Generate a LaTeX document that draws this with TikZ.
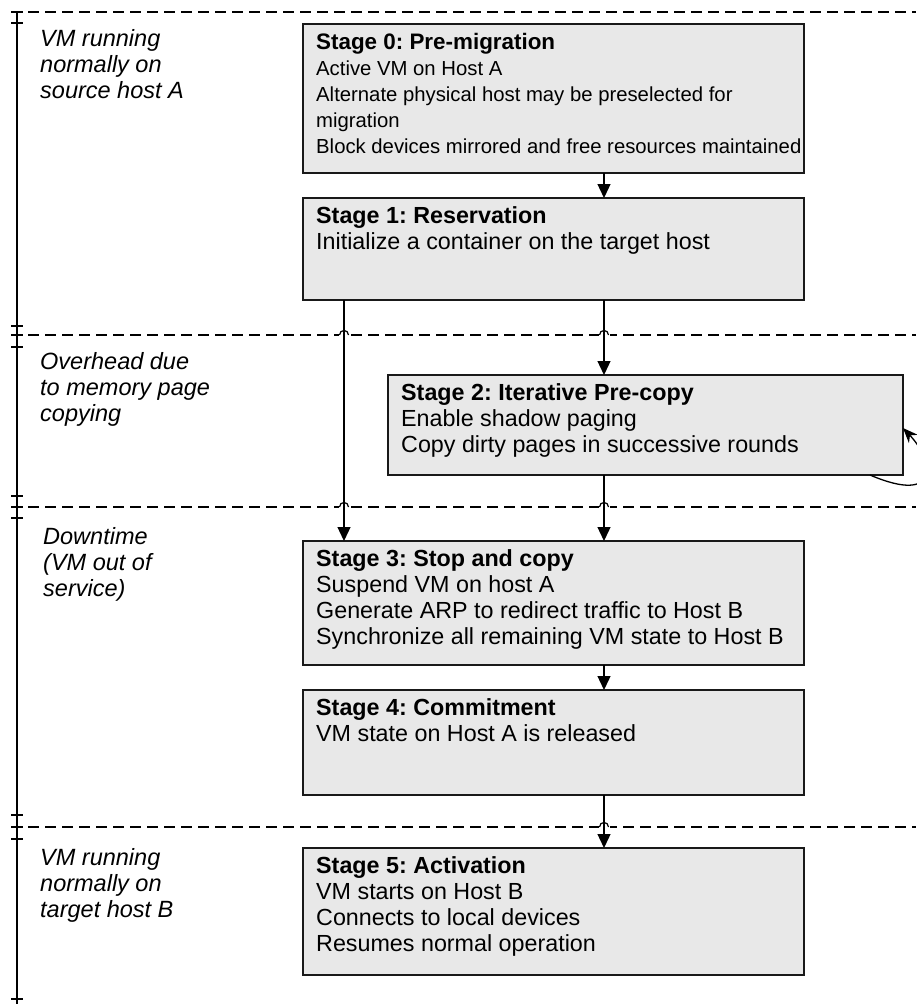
\documentclass[tikz,border=0pt]{standalone}
\usepackage{fontspec}
\setmainfont{Liberation Sans}
\usetikzlibrary{arrows.meta}
\definecolor{boxfill}{RGB}{232,232,232}
\definecolor{edge}{RGB}{25,25,25}
\frenchspacing
\begin{document}
\begin{tikzpicture}[x=1pt,y=-1pt,
  stagebox/.style={draw=edge, line width=1.4pt, fill=boxfill, rectangle,
                   inner sep=0pt, outer sep=0pt, anchor=north west},
  stagetxt/.style={anchor=north west, inner sep=0pt, align=left,
                   font=\fontsize{23.3}{26}\selectfont},
  densetxt/.style={stagetxt, font=\fontsize{20.3}{26}\selectfont},
  sidetxt/.style={stagetxt, font=\fontsize{23.5}{26}\selectfont\itshape},
  flow/.style={line width=1.3pt, -{Triangle[length=14pt,width=13pt]}},
  loopflow/.style={line width=1.3pt, -{Stealth[length=15pt,width=12pt]}},
  phase/.style={line width=1.2pt, dash pattern=on 11pt off 6pt},
  tick/.style={line width=1.2pt}]
\useasboundingbox (0,0) rectangle (916,1006);

% time line on the left with its ticks
\draw[tick] (17,12) -- (17,1004);
\foreach \y in {12,23,326,335,347,496,507,518,815,827,839,999}
  \draw[tick] (11,\y) -- (23,\y);

% phase separators
\foreach \y in {12,335,507,827}
  \draw[phase] (28,\y) -- (916,\y);

% small hops where the flow lines cross the separators
\foreach \x/\y in {344/335,604/335,344/507,604/507,604/827} {
  \fill[white] ([xshift=-5.5pt,yshift=-1.5pt]\x,\y) rectangle ([xshift=5.5pt,yshift=1.5pt]\x,\y);
  \draw[line width=1.2pt] ([xshift=-4.5pt]\x,\y) .. controls +(0pt,6pt) and +(0pt,6pt) .. ([xshift=4.5pt]\x,\y);
}

% phase labels
\node[sidetxt] (l0) at (40,29.5) {VM running\\normally on\\source host A};
\node[sidetxt] (l1) at (40,352) {Overhead due\\to memory page\\copying};
\node[sidetxt] (l2) at (43,527) {Downtime\\(VM out of\\service)};
\node[sidetxt] (l3) at (40,848) {VM running\\normally on\\target host B};

% stage boxes
\node[stagebox, minimum width=501pt, minimum height=149pt] (s0) at (303,24) {};
\node[stagebox, minimum width=501pt, minimum height=102pt] (s1) at (303,198) {};
\node[stagebox, minimum width=515pt, minimum height=100pt] (s2) at (388,375) {};
\node[stagebox, minimum width=501pt, minimum height=124pt] (s3) at (303,541) {};
\node[stagebox, minimum width=501pt, minimum height=105pt] (s4) at (303,690) {};
\node[stagebox, minimum width=501pt, minimum height=127pt] (s5) at (303,848) {};

% stage texts
\node[densetxt] (t0) at ([shift={(13pt,-9pt)}]s0.north west)
  {\fontsize{22.4}{26}\selectfont\textbf{Stage 0: Pre-migration}\\Active VM on Host A\\Alternate physical host may be preselected for\\migration\\Block devices mirrored and free resources maintained};
\node[stagetxt] (t1) at ([shift={(13pt,-8.3pt)}]s1.north west)
  {\textbf{Stage 1: Reservation}\\Initialize a container on the target host};
\node[stagetxt] (t2) at ([shift={(13pt,-8.3pt)}]s2.north west)
  {\textbf{Stage 2: Iterative Pre-copy}\\Enable shadow paging\\Copy dirty pages in successive rounds};
\node[stagetxt] (t3) at ([shift={(13pt,-8.3pt)}]s3.north west)
  {\textbf{Stage 3: Stop and copy}\\Suspend VM on host A\\Generate ARP to redirect traffic to Host B\\Synchronize all remaining VM state to Host B};
\node[stagetxt] (t4) at ([shift={(13pt,-8.3pt)}]s4.north west)
  {\textbf{Stage 4: Commitment}\\VM state on Host A is released};
\node[stagetxt] (t5) at ([shift={(13pt,-8.3pt)}]s5.north west)
  {\textbf{Stage 5: Activation}\\VM starts on Host B\\Connects to local devices\\Resumes normal operation};

% flow between stages
\coordinate (mx) at (604,0);
\coordinate (lx) at (344,0);
\draw[flow] (s0.south -| mx) -- (s1.north -| mx);
\draw[flow] (s1.south -| mx) -- (s2.north -| mx);
\draw[flow] (s1.south -| lx) -- (s3.north -| lx);
\draw[flow] (s2.south -| mx) -- (s3.north -| mx);
\draw[flow] (s3.south -| mx) -- (s4.north -| mx);
\draw[flow] (s4.south -| mx) -- (s5.north -| mx);

% pre-copy rounds repeat
\draw[loopflow] ([xshift=-33pt]s2.south east) .. controls (940,505) and (935,462) .. ([yshift=-3pt]s2.east);
\end{tikzpicture}
\end{document}
